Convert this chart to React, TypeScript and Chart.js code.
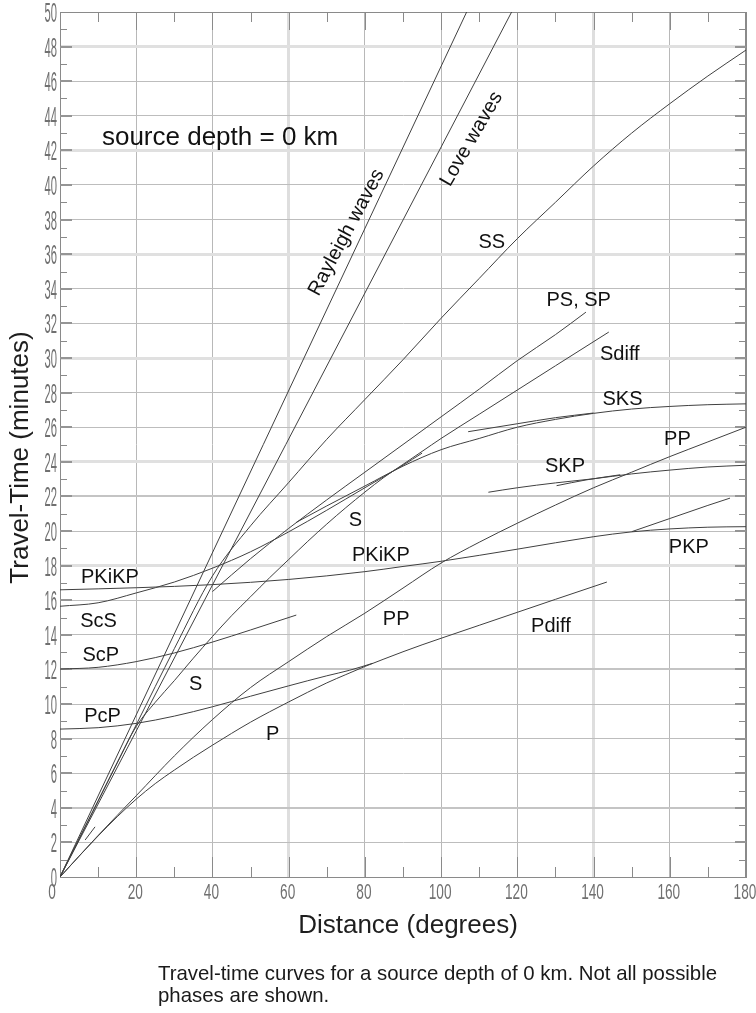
import React, { useEffect, useRef } from "react";
import { Chart, registerables } from "chart.js";

Chart.register(...registerables);

// ---------- axis ticks ----------
const X_TICKS = [0, 20, 40, 60, 80, 100, 120, 140, 160, 180];
const X_TICK_LABELS = ["0", "20", "40", "60", "80", "100", "120", "140", "160", "180"];
const Y_TICKS = [0, 2, 4, 6, 8, 10, 12, 14, 16, 18, 20, 22, 24, 26, 28, 30, 32, 34, 36, 38, 40, 42, 44, 46, 48, 50];
const Y_TICK_LABELS = Y_TICKS.map((v) => String(v));

// ---------- travel-time curves (distance in degrees, time in minutes) ----------
const RAYLEIGH_DEG = [0, 106.7];
const RAYLEIGH_MIN = [0, 50];
const LOVE_DEG = [0, 118.5];
const LOVE_MIN = [0, 50];

const P_DEG = [0, 5, 10, 15, 20, 25, 30, 35, 40, 45, 50, 55, 60, 65, 70, 75, 80, 85, 90, 95, 100, 110, 120, 130, 143.5];
const P_MIN = [0, 1.2, 2.37, 3.48, 4.5, 5.4, 6.18, 6.92, 7.62, 8.3, 8.95, 9.55, 10.12, 10.68, 11.22, 11.7, 12.17, 12.6, 13.02, 13.42, 13.8, 14.55, 15.3, 16.05, 17.05];

const PG_DEG = [6.6, 9.2];
const PG_MIN = [2.14, 2.9];

const PP_DEG = [0, 10, 20, 30, 40, 50, 60, 70, 80, 90, 100, 110, 120, 130, 140, 150, 160, 170, 180];
const PP_MIN = [0, 2.4, 4.7, 7.0, 9.1, 10.95, 12.45, 13.9, 15.25, 16.7, 18.15, 19.35, 20.45, 21.5, 22.5, 23.4, 24.3, 25.15, 26.0];

const PCP_DEG = [0, 10, 20, 30, 40, 50, 60, 70, 76, 82];
const PCP_MIN = [8.55, 8.63, 8.88, 9.3, 9.84, 10.45, 11.05, 11.63, 11.95, 12.35];

const SCP_DEG = [0, 10, 20, 30, 40, 50, 62];
const SCP_MIN = [12.02, 12.12, 12.45, 12.95, 13.58, 14.28, 15.14];

const SCS_DEG = [0, 10, 20, 30, 40, 50, 60, 70, 75, 80, 90, 95];
const SCS_MIN = [15.65, 15.85, 16.42, 17.05, 17.85, 18.8, 19.95, 21.2, 21.85, 22.5, 23.8, 24.5];

const S_DEG = [0, 5, 10, 15, 20, 25, 30, 35, 40, 45, 50, 55, 60, 65, 70, 75, 80, 85, 90, 95, 100, 110, 120, 130, 144];
const S_MIN = [0, 2.2, 4.4, 6.6, 8.7, 10.1, 11.35, 12.65, 13.9, 15.1, 16.2, 17.3, 18.35, 19.4, 20.4, 21.35, 22.25, 23.1, 23.85, 24.6, 25.35, 26.75, 28.15, 29.55, 31.5];

const SS_DEG = [0, 10, 20, 30, 40, 50, 60, 70, 80, 90, 100, 110, 120, 130, 140, 150, 160, 170, 180];
const SS_MIN = [0, 4.4, 8.8, 13.2, 17.4, 20.3, 22.8, 25.3, 27.6, 29.9, 32.3, 34.6, 36.9, 39.0, 41.1, 43.0, 44.7, 46.3, 47.8];

const PS_DEG = [40, 50, 60, 70, 80, 90, 100, 110, 120, 130, 138];
const PS_MIN = [16.5, 18.4, 20.15, 21.8, 23.4, 25.0, 26.6, 28.2, 29.85, 31.35, 32.65];

const SKS_DEG = [62, 70, 80, 90, 100, 110, 120, 130, 140, 150, 160, 170, 180];
const SKS_MIN = [20.5, 21.45, 22.6, 23.75, 24.7, 25.35, 26.0, 26.45, 26.8, 27.05, 27.2, 27.3, 27.35];

const SKS2_DEG = [107.1, 120, 130, 140];
const SKS2_MIN = [25.74, 26.2, 26.55, 26.82];

const SKP_DEG = [112.4, 120, 130, 140, 150, 160, 170, 180];
const SKP_MIN = [22.24, 22.5, 22.78, 23.02, 23.3, 23.52, 23.7, 23.8];

const SKP2_DEG = [130.3, 138, 147];
const SKP2_MIN = [22.62, 22.95, 23.25];

const PKIKP_DEG = [0, 20, 40, 60, 80, 90, 100, 120, 140, 150, 160, 170, 180];
const PKIKP_MIN = [16.6, 16.72, 16.9, 17.2, 17.65, 17.95, 18.25, 18.95, 19.67, 19.95, 20.12, 20.22, 20.25];

const PKP_DEG = [150, 160, 170, 175.8];
const PKP_MIN = [19.96, 20.72, 21.48, 21.9];

const CURVES: [string, number[], number[]][] = [
  ["Rayleigh", RAYLEIGH_DEG, RAYLEIGH_MIN],
  ["Love", LOVE_DEG, LOVE_MIN],
  ["P", P_DEG, P_MIN],
  ["Pg", PG_DEG, PG_MIN],
  ["PP", PP_DEG, PP_MIN],
  ["PcP", PCP_DEG, PCP_MIN],
  ["ScP", SCP_DEG, SCP_MIN],
  ["ScS", SCS_DEG, SCS_MIN],
  ["S", S_DEG, S_MIN],
  ["SS", SS_DEG, SS_MIN],
  ["PS", PS_DEG, PS_MIN],
  ["SKS", SKS_DEG, SKS_MIN],
  ["SKS2", SKS2_DEG, SKS2_MIN],
  ["SKP", SKP_DEG, SKP_MIN],
  ["SKP2", SKP2_DEG, SKP2_MIN],
  ["PKiKP", PKIKP_DEG, PKIKP_MIN],
  ["PKP", PKP_DEG, PKP_MIN],
];

// ---------- curve labels (position in data units) ----------
const LABEL_TEXT = ["Rayleigh waves", "Love waves", "SS", "PS, SP", "Sdiff", "SKS", "PP", "SKP", "S", "PKiKP", "PKP", "PP", "Pdiff", "PKiKP", "ScS", "ScP", "PcP", "S", "P"];
const LABEL_DEG = [74.8, 107.6, 113.3, 136.1, 146.9, 147.6, 162, 132.5, 77.5, 84.2, 165, 88.2, 128.8, 13.1, 10.1, 10.7, 11.15, 35.6, 55.8];
const LABEL_MIN = [37.3, 42.7, 36.8, 33.4, 30.3, 27.7, 25.4, 23.8, 20.7, 18.7, 19.15, 15.0, 14.57, 17.4, 14.85, 12.93, 9.36, 11.2, 8.35];
const LABEL_ROT = [-62, -60, 0, 0, 0, 0, 0, 0, 0, 0, 0, 0, 0, 0, 0, 0, 0, 0, 0];

const NOTE_TEXT = "source depth = 0 km";
const NOTE_DEG = 11.0;
const NOTE_MIN = 42.87;

const X_TITLE = "Distance (degrees)";
const Y_TITLE = "Travel-Time (minutes)";
const CAPTION_LINE_1 = "Travel-time curves for a source depth of 0 km. Not all possible";
const CAPTION_LINE_2 = "phases are shown.";

const SANS = '"Liberation Sans", Arial, Helvetica, sans-serif';
const LIGHT_Y = [48, 42, 36, 30, 24, 18];
const MED_Y = [4, 12, 22];
const LIGHT_X = [60, 140];

function drawScaled(ctx: CanvasRenderingContext2D, text: string, x: number, y: number, font: string, sx: number, align: CanvasTextAlign) {
  ctx.save();
  ctx.translate(x, y);
  ctx.scale(sx, 1);
  ctx.font = font;
  ctx.textAlign = align;
  ctx.textBaseline = "alphabetic";
  ctx.fillText(text, 0, 0);
  ctx.restore();
}

const decorPlugin = {
  id: "decor",
  beforeDatasetsDraw(chart: any) {
    const ctx: CanvasRenderingContext2D = chart.ctx;
    const a = chart.chartArea;
    const xs = chart.scales.x;
    const ys = chart.scales.y;
    ctx.save();
    ctx.strokeStyle = "#8a8a8a";
    ctx.lineWidth = 1;
    ctx.beginPath();
    ctx.moveTo(a.left, Math.round(a.top) + 0.5);
    ctx.lineTo(a.right, Math.round(a.top) + 0.5);
    ctx.moveTo(Math.round(a.right) - 0.5, a.top);
    ctx.lineTo(Math.round(a.right) - 0.5, a.bottom);
    ctx.stroke();
    ctx.beginPath();
    for (let v = 10; v < 180; v += 20) {
      const px = Math.round(xs.getPixelForValue(v)) + 0.5;
      ctx.moveTo(px, a.bottom);
      ctx.lineTo(px, a.bottom - 10);
      ctx.moveTo(px, a.top);
      ctx.lineTo(px, a.top + 10);
    }
    for (let v = 20; v < 180; v += 20) {
      const px = Math.round(xs.getPixelForValue(v)) + 0.5;
      ctx.moveTo(px, a.bottom);
      ctx.lineTo(px, a.bottom - 20);
      ctx.moveTo(px, a.top);
      ctx.lineTo(px, a.top + 18);
    }
    for (let v = 1; v < 50; v += 2) {
      const py = Math.round(ys.getPixelForValue(v)) + 0.5;
      ctx.moveTo(a.left, py);
      ctx.lineTo(a.left + 7, py);
      ctx.moveTo(a.right, py);
      ctx.lineTo(a.right - 7, py);
    }
    ctx.stroke();
    ctx.lineWidth = 2;
    ctx.strokeStyle = "#959595";
    ctx.beginPath();
    for (let v = 2; v < 50; v += 2) {
      const py = Math.round(ys.getPixelForValue(v));
      ctx.moveTo(a.left, py);
      ctx.lineTo(a.left + 12, py);
      ctx.moveTo(a.right, py);
      ctx.lineTo(a.right - 11, py);
    }
    ctx.stroke();
    ctx.restore();
  },
  afterDraw(chart: any) {
    const ctx: CanvasRenderingContext2D = chart.ctx;
    const xs = chart.scales.x;
    const ys = chart.scales.y;
    const a = chart.chartArea;
    ctx.save();
    ctx.fillStyle = "#707070";
    X_TICKS.forEach((v, i) => {
      const px = xs.getPixelForValue(v) + (v === 0 ? -8 : -1);
      drawScaled(ctx, X_TICK_LABELS[i], px, a.bottom + 22, `22px ${SANS}`, 0.62, "center");
    });
    Y_TICKS.forEach((v, i) => {
      const py = ys.getPixelForValue(v);
      drawScaled(ctx, Y_TICK_LABELS[i], a.left - 3, py + 10, `28px ${SANS}`, 0.4, "right");
    });
    ctx.fillStyle = "#1e1e1e";
    ctx.font = `26px ${SANS}`;
    ctx.textAlign = "center";
    ctx.textBaseline = "alphabetic";
    ctx.fillText(X_TITLE, (a.left + a.right) / 2 + 5, a.bottom + 56);
    ctx.save();
    ctx.translate(28, (a.top + a.bottom) / 2 + 13);
    ctx.rotate(-Math.PI / 2);
    ctx.fillText(Y_TITLE, 0, 0);
    ctx.restore();
    ctx.fillStyle = "#111";
    ctx.font = `26px ${SANS}`;
    ctx.textAlign = "left";
    ctx.fillText(NOTE_TEXT, xs.getPixelForValue(NOTE_DEG), ys.getPixelForValue(NOTE_MIN) + 9.3);
    ctx.font = `20px ${SANS}`;
    LABEL_TEXT.forEach((t, i) => {
      const px = xs.getPixelForValue(LABEL_DEG[i]);
      const py = ys.getPixelForValue(LABEL_MIN[i]);
      ctx.save();
      ctx.translate(px, py);
      if (LABEL_ROT[i]) ctx.rotate((LABEL_ROT[i] * Math.PI) / 180);
      ctx.textAlign = "center";
      ctx.textBaseline = "alphabetic";
      ctx.fillText(t, 0, 7.2);
      ctx.restore();
    });
    ctx.restore();
  },
};

function gridX(c: any) {
  const v = c.tick ? c.tick.value : -1;
  if (v === 0 || v === 180) return "#8a8a8a";
  return LIGHT_X.includes(v) ? "#dedede" : "#b8b8b8";
}
function gridXW(c: any) {
  const v = c.tick ? c.tick.value : -1;
  return LIGHT_X.includes(v) ? 3 : 1;
}
function gridY(c: any) {
  const v = c.tick ? c.tick.value : -1;
  if (v === 0 || v === 50) return "#8a8a8a";
  if (LIGHT_Y.includes(v)) return "#e0e0e0";
  if (MED_Y.includes(v)) return "#c4c4c4";
  return "#bdbdbd";
}
function gridYW(c: any) {
  const v = c.tick ? c.tick.value : -1;
  if (LIGHT_Y.includes(v)) return 3;
  if (MED_Y.includes(v)) return 2;
  return 1;
}

export default function App() {
  const ref = useRef<HTMLCanvasElement | null>(null);
  useEffect(() => {
    if (!ref.current) return;
    const datasets = CURVES.map(([name, xsArr, ysArr]) => ({
      label: name,
      data: xsArr.map((x, i) => ({ x, y: ysArr[i] })),
      showLine: true,
      borderColor: "#404040",
      borderWidth: 1,
      pointRadius: 0,
      fill: false,
      cubicInterpolationMode: "monotone" as const,
    }));
    const chart = new Chart(ref.current, {
      type: "scatter",
      data: { datasets },
      options: {
        animation: false,
        responsive: false,
        devicePixelRatio: 1,
        events: [],
        layout: { padding: { left: 60, top: 12, right: 10, bottom: 136 } },
        plugins: { legend: { display: false }, tooltip: { enabled: false }, title: { display: false } },
        scales: {
          x: {
            type: "linear",
            min: 0,
            max: 180,
            ticks: { stepSize: 20, display: false },
            grid: { color: gridX, lineWidth: gridXW, drawTicks: false },
            border: { color: "#8a8a8a", width: 1 },
          },
          y: {
            type: "linear",
            min: 0,
            max: 50,
            ticks: { stepSize: 2, display: false },
            grid: { color: gridY, lineWidth: gridYW, drawTicks: false },
            border: { color: "#8a8a8a", width: 1 },
          },
        },
      },
      plugins: [decorPlugin],
    });
    return () => chart.destroy();
  }, []);

  return (
    <div style={{ position: "absolute", left: 0, top: 0, width: 756, height: 1013, background: "#fff", overflow: "hidden" }}>
      <canvas ref={ref} width={756} height={1013} style={{ display: "block", width: 756, height: 1013 }} />
      <div
        style={{
          position: "absolute",
          left: 158,
          top: 962,
          width: 596,
          fontFamily: SANS,
          fontSize: 20.4,
          lineHeight: "22px",
          color: "#1a1a1a",
          whiteSpace: "nowrap",
        }}
      >
        {CAPTION_LINE_1}
        <br />
        {CAPTION_LINE_2}
      </div>
    </div>
  );
}
